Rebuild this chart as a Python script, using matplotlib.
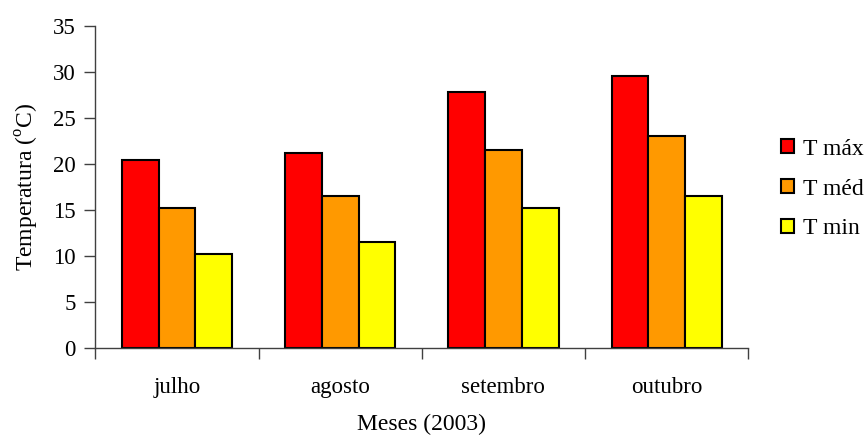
import numpy as np
import matplotlib
matplotlib.use("Agg")
import matplotlib.pyplot as plt
from matplotlib.patches import Patch

plt.rcParams['font.family'] = ['Liberation Serif', 'DejaVu Serif']
plt.rcParams['mathtext.fontset'] = 'custom'
plt.rcParams['mathtext.rm'] = 'Liberation Serif'

meses = ['julho', 'agosto', 'setembro', 'outubro']
series = ['T máx', 'T méd', 'T min']
t_max = [20.4, 21.2, 27.8, 29.5]
t_med = [15.2, 16.5, 21.5, 23.0]
t_min = [10.2, 11.5, 15.2, 16.5]
colors = ['#FF0000', '#FF9900', '#FFFF00']

fs = 16.5

fig = plt.figure(figsize=(8.64, 4.38), dpi=100)
ax = fig.add_axes([0.1103, 0.2055, 0.7558, 0.7358])

x = np.arange(len(meses))
w = 0.225
for i, (vals, c) in enumerate(zip([t_max, t_med, t_min], colors)):
    ax.bar(x + (i - 1) * w, vals, width=w, color=c, edgecolor='black', linewidth=1.5)

ax.set_xlim(-0.5, len(meses) - 0.5)
ax.set_ylim(0, 35)
ax.set_yticks(np.arange(0, 36, 5))

# ticks at category boundaries, labels centred between them
ax.set_xticks(np.arange(-0.5, len(meses)))
ax.set_xticklabels([])
ax.set_xticks(x, minor=True)
ax.set_xticklabels(meses, minor=True)
ax.tick_params(axis='x', which='minor', length=0, pad=21, labelsize=fs)
ax.tick_params(axis='x', which='major', length=8, width=1, color='#404040')
ax.tick_params(axis='y', length=8, width=1, color='#404040', labelsize=fs, pad=6)

for s in ['top', 'right']:
    ax.spines[s].set_visible(False)
for s in ['left', 'bottom']:
    ax.spines[s].set_color('#404040')
    ax.spines[s].set_linewidth(1)

ax.set_ylabel(r'Temperatura ($^{\rm o}$C)', fontsize=17, labelpad=9)
ax.set_xlabel('Meses (2003)', fontsize=17, labelpad=11)

handles = [Patch(facecolor=c, edgecolor='black', linewidth=1.5) for c in colors]
fig.legend(handles, series, loc='upper left', bbox_to_anchor=(0.8925, 0.705),
           frameon=False, fontsize=17, handlelength=0.55, handleheight=0.55,
           handletextpad=0.38, labelspacing=0.8, borderaxespad=0)

fig.savefig('out.png', dpi=100)
